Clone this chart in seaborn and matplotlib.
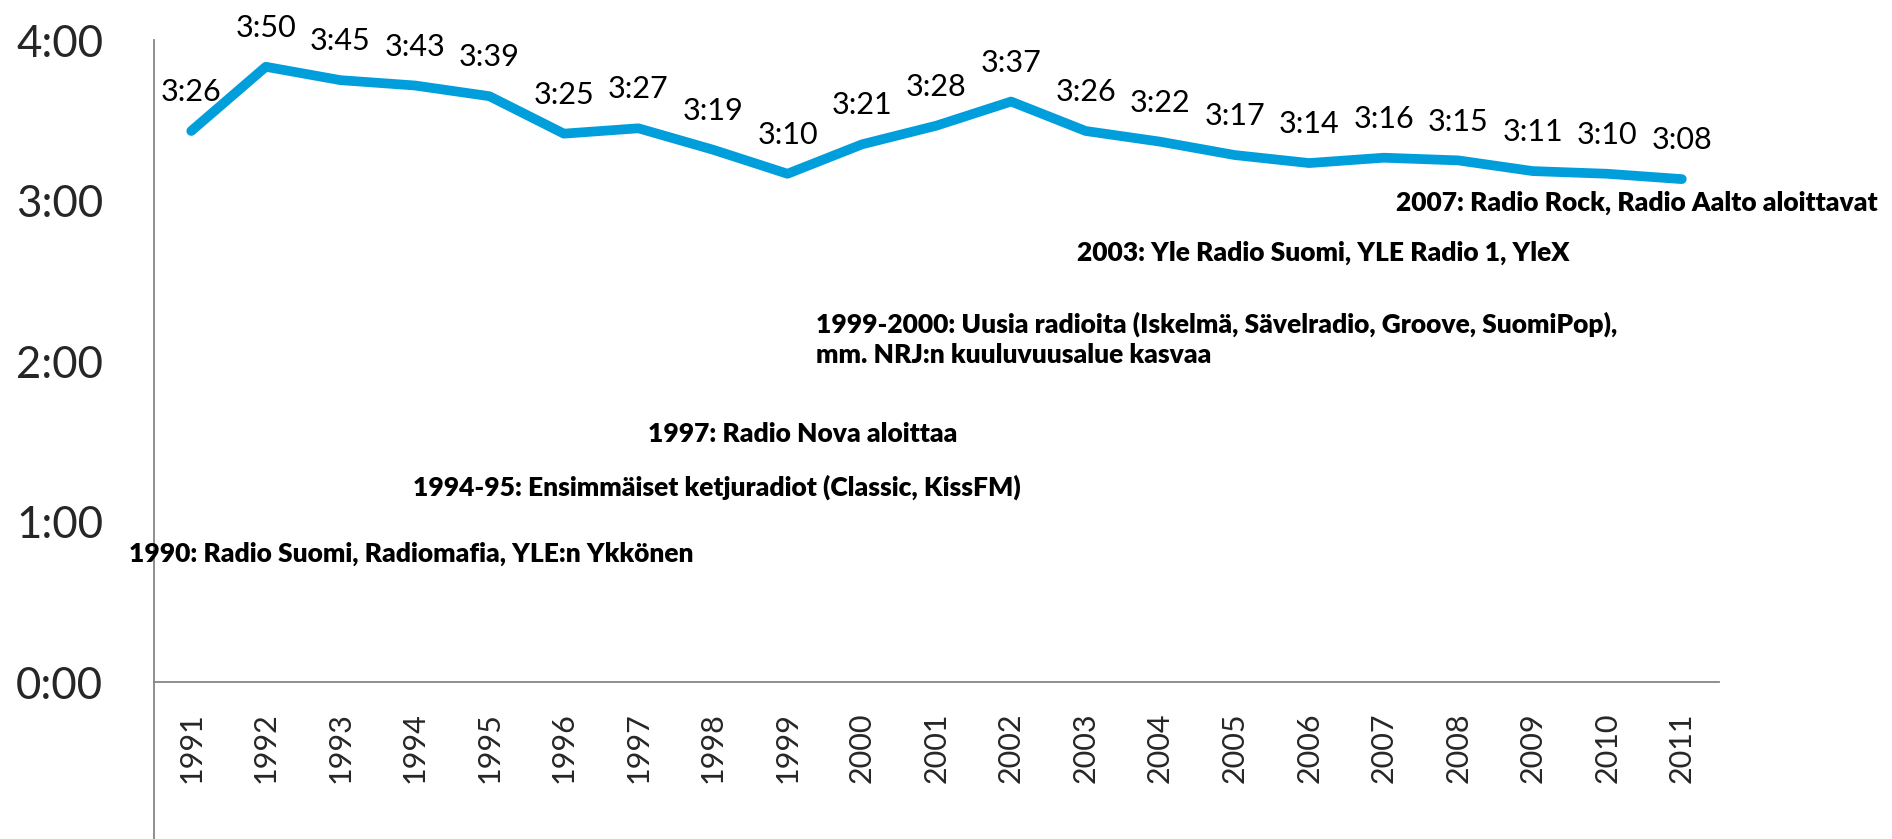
import numpy as np
import pandas as pd
import matplotlib.pyplot as plt
import seaborn as sns
from matplotlib.ticker import FixedLocator, NullFormatter

sns.set_style("white")
plt.rcParams['font.family'] = ['Lato', 'DejaVu Sans']

# daily listening time per year (h:mm)
years = [str(y) for y in range(1991, 2012)]
times = ["3:26", "3:50", "3:45", "3:43", "3:39", "3:25", "3:27", "3:19", "3:10", "3:21",
         "3:28", "3:37", "3:26", "3:22", "3:17", "3:14", "3:16", "3:15", "3:11", "3:10", "3:08"]
y_ticks = ["0:00", "1:00", "2:00", "3:00", "4:00"]

events = [
    "1990: Radio Suomi, Radiomafia, YLE:n Ykkönen",
    "1994-95: Ensimmäiset ketjuradiot (Classic, KissFM)",
    "1997: Radio Nova aloittaa",
    "1999-2000: Uusia radioita (Iskelmä, Sävelradio, Groove, SuomiPop),\nmm. NRJ:n kuuluvuusalue kasvaa",
    "2003: Yle Radio Suomi, YLE Radio 1, YleX",
    "2007: Radio Rock, Radio Aalto aloittavat",
]
# where each event note sits (category index, minutes)
event_pos = [(-0.84, 48), (2.98, 73), (6.13, 92.7), (8.38, 128), (11.89, 160.4), (16.17, 179)]


def to_min(s):
    h, m = s.split(":")
    return int(h) * 60 + int(m)


df = pd.DataFrame({"pos": np.arange(len(years)), "minutes": [to_min(t) for t in times]})

fig = plt.figure(figsize=(18.92, 8.39), dpi=100)
ax = fig.add_axes([0.0814, 0.1871, 0.8272, 0.7652])

sns.lineplot(data=df, x="pos", y="minutes", ax=ax, color="#009FDB", linewidth=7,
             solid_capstyle="round", solid_joinstyle="round")

for x, m, t in zip(df["pos"], df["minutes"], times):
    ax.annotate(t, (x, m), xytext=(0, 28), textcoords="offset points",
                ha="center", va="center", fontsize=22, color="black")

for txt, (x, y) in zip(events, event_pos):
    ax.text(x, y, txt, ha="left", va="center", fontsize=19, fontweight="heavy",
            color="black", linespacing=1.3, clip_on=False)

ax.set_xlim(-0.5, len(years) - 0.5)
ax.set_ylim(0, 240)

# Excel-style category axis: ticks between categories, labels at centres
ax.xaxis.set_major_locator(FixedLocator(np.arange(-0.5, len(years), 1.0)))
ax.xaxis.set_major_formatter(NullFormatter())
ax.set_xticks(np.arange(len(years)), labels=years, minor=True)
ax.tick_params(axis="x", which="major", direction="out", length=7.2, width=1.3, color="#868686")
ax.tick_params(axis="x", which="minor", length=0, pad=22, labelsize=22, labelrotation=90)

ax.set_yticks([0, 60, 120, 180, 240], labels=y_ticks)
ax.tick_params(axis="y", direction="out", length=11.5, width=1.3, color="#868686",
               pad=25, labelsize=31.5)

ax.set_xlabel("")
ax.set_ylabel("")
for s in ["top", "right"]:
    ax.spines[s].set_visible(False)
for s in ["left", "bottom"]:
    ax.spines[s].set_color("#868686")
    ax.spines[s].set_linewidth(1.3)
ax.spines["left"].set_bounds(-60, 240)

fig.savefig("out.png", dpi=100)
